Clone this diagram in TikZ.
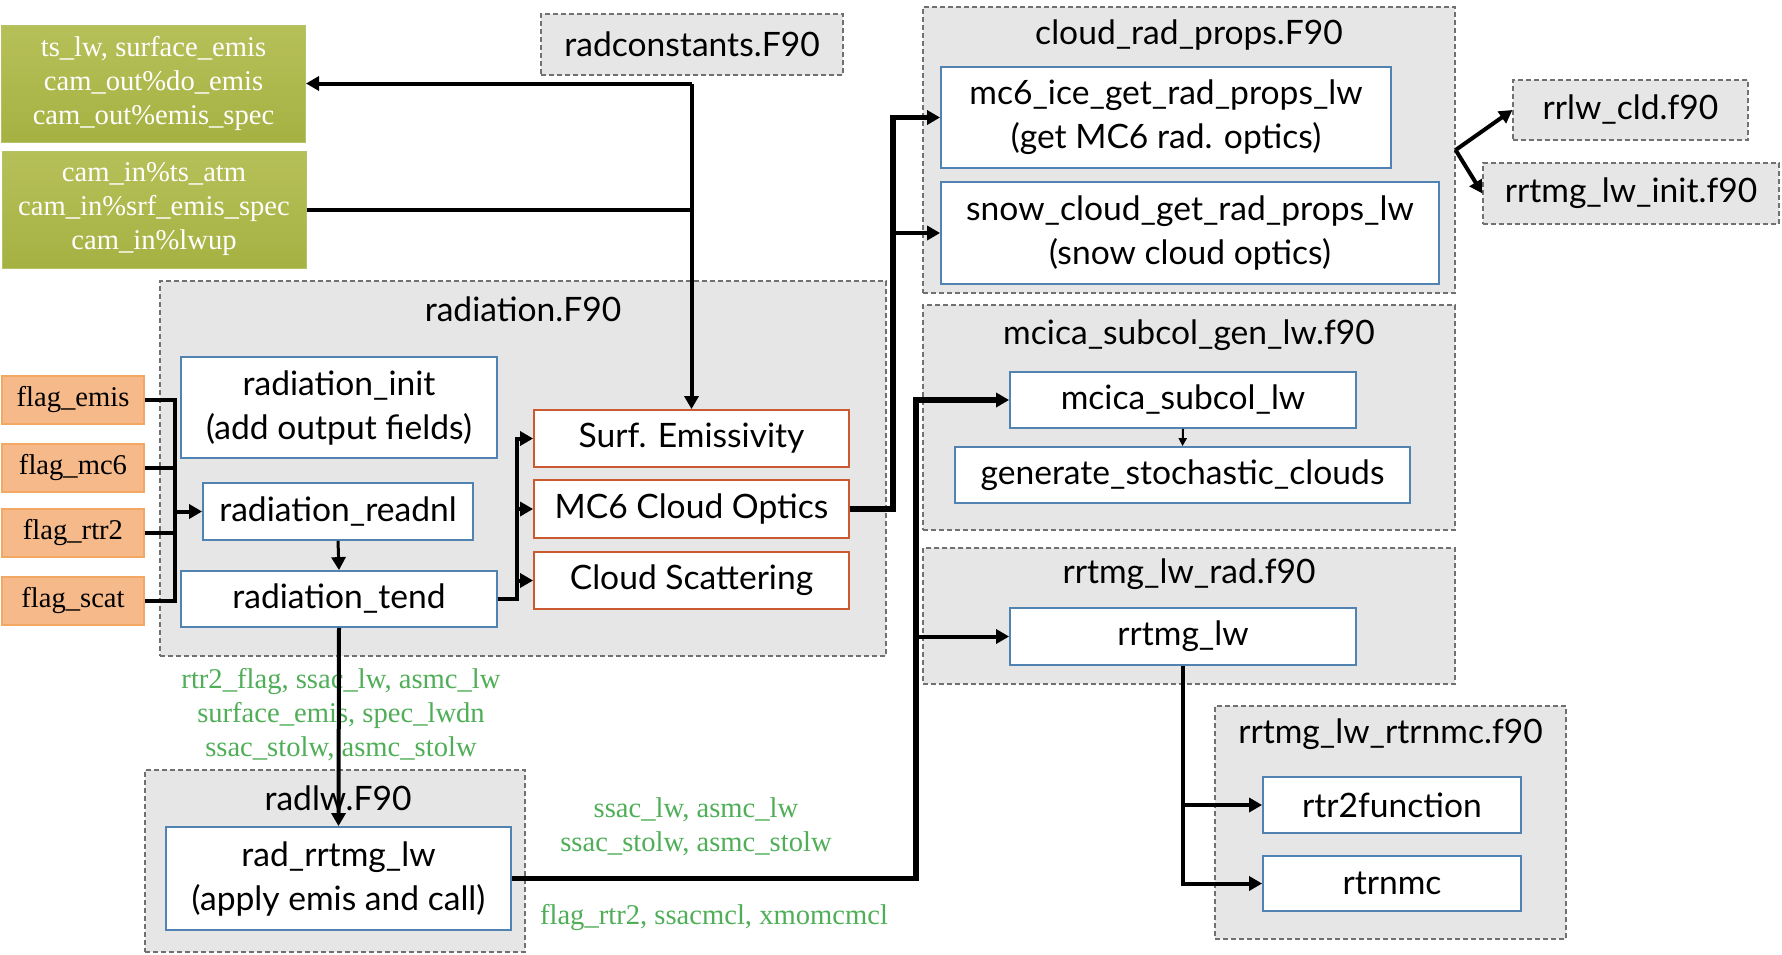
\documentclass[tikz,border=0pt]{standalone}
\usepackage{fontspec}
\setmainfont{Lato}
\newfontfamily\labfont{Liberation Serif}
\usetikzlibrary{arrows.meta}

\definecolor{modgray}{HTML}{E6E6E6}
\definecolor{modline}{HTML}{707070}
\definecolor{subblue}{HTML}{5183B2}
\definecolor{optred}{HTML}{CC5A30}
\definecolor{flagfill}{HTML}{F5B98A}
\definecolor{flagline}{HTML}{F2A863}
\definecolor{varA}{HTML}{B6C059}
\definecolor{varB}{HTML}{A5B242}
\definecolor{labgreen}{HTML}{4FAE57}

\tikzset{
  modbox/.style={draw=modline, fill=modgray, dash pattern=on 2.5pt off 1.5pt, line width=0.6pt, inner sep=0pt},
  modtitle/.style={font=\fontsize{16.8}{20}\selectfont},
  subbox/.style={draw=subblue, fill=white, line width=0.9pt, inner sep=0pt, align=center, font=\fontsize{16.8}{22}\selectfont},
  optbox/.style={subbox, draw=optred},
  flagbox/.style={draw=flagline, fill=flagfill, line width=0.6pt, inner sep=0pt, minimum width=71pt, minimum height=24pt, font=\labfont\fontsize{14.3}{17}\selectfont},
  varbox/.style={draw=varB!80!white, top color=varA, bottom color=varB, line width=0.5pt, inner sep=0pt, minimum width=152pt, minimum height=58.5pt, align=center, text=white, font=\labfont\fontsize{14.3}{17}\selectfont},
  varlab/.style={align=center, text=labgreen, font=\labfont\fontsize{14.3}{17}\selectfont},
  conn/.style={line width=2pt},
  bigconn/.style={line width=2.6pt},
  thinconn/.style={line width=1pt, >={Triangle[length=4pt,width=4pt]}}
}

\begin{document}
\begin{tikzpicture}[x=0.5pt, y=-0.5pt, >={Triangle[length=6.5pt,width=7pt]}]
\useasboundingbox (0,0) rectangle (1782,954);

% Module boxes
\node[modbox, minimum width=151pt, minimum height=30.5pt, font=\fontsize{16.8}{20}\selectfont] (radconst) at (692,44.5) {radconstants.F90};
\node[modbox, minimum width=266pt, minimum height=143pt] (cloudmod) at (1189,150) {};
\node[modtitle] (cloudT) at (1189,35) {cloud\_rad\_props.F90};
\node[modbox, minimum width=117.5pt, minimum height=30pt, font=\fontsize{16.8}{20}\selectfont] (rrlwcld) at (1630.5,110) {rrlw\_cld.f90};
\node[modbox, minimum width=148pt, minimum height=30.5pt, font=\fontsize{16.8}{20}\selectfont] (lwinit) at (1631,193.5) {rrtmg\_lw\_init.f90};
\node[modbox, minimum width=363pt, minimum height=187.5pt] (radmod) at (523,468.5) {};
\node[modtitle] (radT) at (523,309) {radiation.F90};
\node[modbox, minimum width=190pt, minimum height=91pt] (radlwmod) at (335,861) {};
\node[modtitle] (radlwT) at (338,798) {radlw.F90};
\node[modbox, minimum width=266pt, minimum height=112.5pt] (mcicamod) at (1189,417.5) {};
\node[modtitle] (mcicaT) at (1189,335) {mcica\_subcol\_gen\_lw.f90};
\node[modbox, minimum width=266pt, minimum height=68pt] (lwradmod) at (1189,616) {};
\node[modtitle] (lwradT) at (1189,574) {rrtmg\_lw\_rad.f90};
\node[modbox, minimum width=175.5pt, minimum height=116.5pt] (rtrnmcmod) at (1390.5,822.5) {};
\node[modtitle] (rtrnmcT) at (1390.5,734) {rrtmg\_lw\_rtrnmc.f90};

% Input / output variables
\node[varbox] (outvars) at (153.5,83.5) {ts\_lw, surface\_emis\\cam\_out\%do\_emis\\cam\_out\%emis\_spec};
\node[varbox] (invars) at (154,209.5) {cam\_in\%ts\_atm\\cam\_in\%srf\_emis\_spec\\cam\_in\%lwup};

% Flags
\node[flagbox] (femis) at (73,400) {flag\_emis};
\node[flagbox] (fmc) at (73,468) {flag\_mc6};
\node[flagbox] (frtr) at (73,533) {flag\_rtr2};
\node[flagbox] (fscat) at (73,601) {flag\_scat};

% Routines
\node[subbox, minimum width=158pt, minimum height=50.5pt] (radinit) at (339,407.5) {radiation\_init\\(add output fields)};
\node[subbox, minimum width=135pt, minimum height=28.5pt] (readnl) at (338,511.5) {radiation\_readnl};
\node[subbox, minimum width=158pt, minimum height=28pt] (tend) at (339,599) {radiation\_tend};
\node[optbox, minimum width=157.5pt, minimum height=28.5pt] (surf) at (691.5,438.5) {Surf. Emissivity};
\node[optbox, minimum width=157.5pt, minimum height=29pt] (mcopt) at (691.5,509) {MC6 Cloud Optics};
\node[optbox, minimum width=157.5pt, minimum height=28.5pt] (scat) at (691.5,580.5) {Cloud Scattering};
\node[subbox, minimum width=172.5pt, minimum height=51.5pt] (radcall) at (338.5,878.5) {rad\_rrtmg\_lw\\(apply emis and call)};
\node[subbox, minimum width=225pt, minimum height=50.5pt] (iceprops) at (1166,117.5) {mc6\_ice\_get\_rad\_props\_lw\\(get MC6 rad. optics)};
\node[subbox, minimum width=249pt, minimum height=51pt] (snowprops) at (1190,233) {snow\_cloud\_get\_rad\_props\_lw\\(snow cloud optics)};
\node[subbox, minimum width=173pt, minimum height=28pt] (subcol) at (1183,400) {mcica\_subcol\_lw};
\node[subbox, minimum width=227.5pt, minimum height=28pt] (stoch) at (1182.5,475) {generate\_stochastic\_clouds};
\node[subbox, minimum width=173pt, minimum height=28.5pt] (rrtmglw) at (1183,636.5) {rrtmg\_lw};
\node[subbox, minimum width=129pt, minimum height=28pt] (rtrfun) at (1392,805) {rtr2function};
\node[subbox, minimum width=129pt, minimum height=27.5pt] (rtrnmc) at (1392,883.5) {rtrnmc};

% Passed variables
\node[varlab] (tendvars) at (341,715) {rtr2\_flag, ssac\_lw, asmc\_lw\\surface\_emis, spec\_lwdn\\ssac\_stolw, asmc\_stolw};
\node[varlab] (callvars) at (696,827) {ssac\_lw, asmc\_lw\\ssac\_stolw, asmc\_stolw};
\node[varlab] (mcvars) at (714,918) {flag\_rtr2, ssacmcl, xmomcmcl};

% Bus points
\coordinate (topjoin) at (691.5,83.5);
\coordinate (flagbus) at (175,0);
\coordinate (tendbus) at (517,0);
\coordinate (optbus) at (893,0);
\coordinate (callbus) at (916,0);

% Connectors
\draw[conn,->] (topjoin) -- (outvars.east);
\draw[conn] (invars.east) -- (invars.east -| topjoin);
\draw[conn,->] (topjoin) -- (surf.north);
\draw[conn] (femis.east) -| (fscat.east -| flagbus) -- (fscat.east);
\draw[conn] (fmc.east) -- (fmc.east -| flagbus);
\draw[conn] (frtr.east) -- (frtr.east -| flagbus);
\draw[conn,->] (readnl.west -| flagbus) -- (readnl.west);
\draw[line width=1.5pt,->] (readnl.south) -- (tend.north);
\draw[conn,->] (tend.east) -| (tendbus |- surf.west) -- (surf.west);
\draw[conn,->] (tendbus |- mcopt.west) -- (mcopt.west);
\draw[conn,->] (tendbus |- scat.west) -- (scat.west);
\draw[bigconn,->] (mcopt.east) -| (optbus |- iceprops.west) -- (iceprops.west);
\draw[conn,->] (optbus |- snowprops.west) -- (snowprops.west);
\draw[conn,->] (tend.south) -- (radcall.north);
\draw[bigconn,->] (radcall.east) -| (callbus |- subcol.west) -- (subcol.west);
\draw[conn,->] (callbus |- rrtmglw.west) -- (rrtmglw.west);
\draw[thinconn,->] (subcol.south) -- (stoch.north);
\draw[conn,->] (rrtmglw.south) |- (rtrnmc.west);
\draw[conn,->] (rrtmglw.south |- rtrfun.west) -- (rtrfun.west);
\draw[conn,->] (cloudmod.east) -- (rrlwcld.west);
\draw[conn,->] (cloudmod.east) -- (lwinit.west);
\end{tikzpicture}
\end{document}
